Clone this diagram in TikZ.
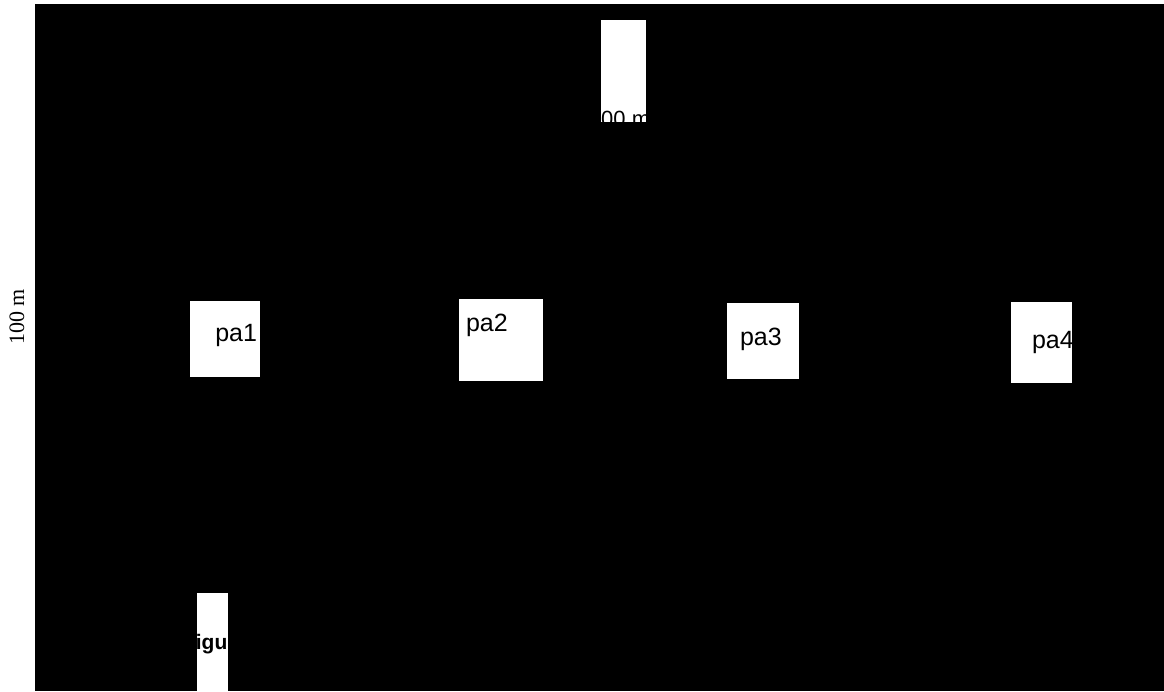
\documentclass[tikz,border=0pt]{standalone}
\usepackage{fontspec}
\setmainfont{Liberation Serif}
\setsansfont{Liberation Sans}
\usetikzlibrary{positioning}

\begin{document}
\begin{tikzpicture}[x=1pt,y=-1pt,outer sep=0pt,inner sep=0pt]
        \tikzset{winbox/.style={anchor=north west,shape=rectangle,fill=white,draw=none}}
        \tikzset{palabel/.style={font=\sffamily\fontsize{25}{29}\selectfont}}

        \useasboundingbox (0,0) rectangle (1164,691);
        \fill[black] (35,4) rectangle (1164,691);

        \node [rotate=90,font=\fontsize{22}{26}\selectfont] (height) at (17,317) {100 m};

        % top window, text cut by its edges
        \node [winbox,minimum width=45,minimum height=102,
               path picture={\node[font=\sffamily\fontsize{22}{26}\selectfont,anchor=base west]
               at ([xshift=-12pt,yshift=-106pt]path picture bounding box.north west) {100 m};}] (top) at (601,20) {};

        \node [winbox,minimum width=70,minimum height=76] (pa1) at (190,301) {};
        \node [winbox,minimum width=84,minimum height=82] (pa2) at (459,299) {};
        \node [winbox,minimum width=72,minimum height=76] (pa3) at (727,303) {};
        \node [winbox,minimum width=61,minimum height=81] (pa4) at (1011,302) {};

        \node [palabel,anchor=base east] (pa1-txt) at (257,341) {pa1};
        \node [palabel,anchor=base west] (pa2-txt) at (466,331) {pa2};
        \node [palabel,anchor=base west] (pa3-txt) at (740,345) {pa3};
        \node [palabel,anchor=base west] (pa4-txt) at (1032,348) {pa4};

        % bottom window
        \node [winbox,minimum width=31,minimum height=98,
               path picture={\node[font=\sffamily\bfseries\fontsize{21}{25}\selectfont,anchor=base west]
               at ([xshift=-14pt,yshift=-56pt]path picture bounding box.north west) {Figure};}] (fig) at (197,593) {};
\end{tikzpicture}
\end{document}
